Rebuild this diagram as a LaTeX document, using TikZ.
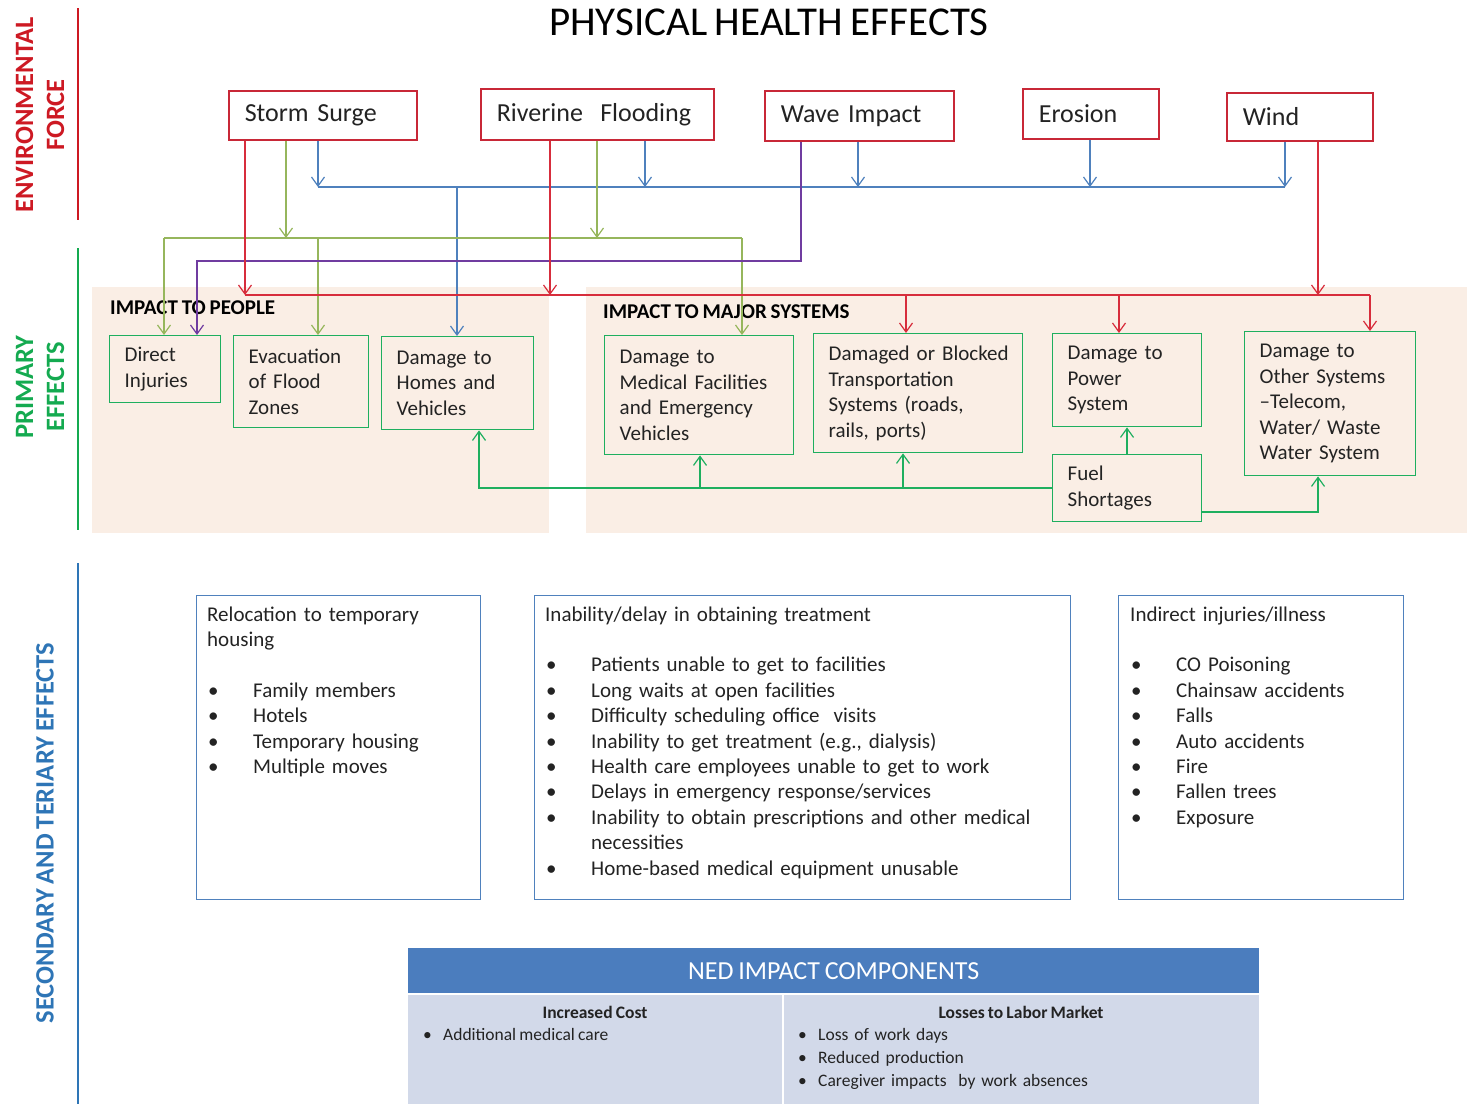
\documentclass[tikz,border=0pt]{standalone}
\usepackage{fontspec}
\setmainfont[WordSpace=0.8]{Carlito}
\usetikzlibrary{arrows.meta,calc}

\definecolor{forcered}{RGB}{200,40,55}
\definecolor{linkred}{RGB}{215,45,60}
\definecolor{linkblue}{RGB}{79,129,189}
\definecolor{linkolive}{RGB}{150,182,92}
\definecolor{linkpurple}{RGB}{112,60,160}
\definecolor{effgreen}{RGB}{30,175,95}
\definecolor{peach}{RGB}{250,238,229}
\definecolor{ink}{RGB}{35,35,35}
\definecolor{headred}{RGB}{205,25,35}
\definecolor{headgreen}{RGB}{20,170,80}
\definecolor{headblue}{RGB}{46,117,182}
\definecolor{tablehead}{RGB}{75,125,190}
\definecolor{tablebody}{RGB}{210,217,233}

% bullet followed by a fixed indent
\newcommand{\bulletline}[1]{\makebox[46pt][l]{\hspace{1pt}\textbullet}#1}
\newcommand{\smallbullet}[1]{\makebox[23pt][l]{\hspace{3pt}\textbullet}#1}

\begin{document}
\begin{tikzpicture}[x=1pt,y=-1pt,
  force/.style={draw=forcered, line width=1.6pt, fill=white, anchor=north west,
    inner xsep=16pt, inner ysep=0pt, align=left, text=ink,
    font=\fontsize{26}{31}\selectfont},
  effect/.style={draw=effgreen, line width=1.4pt, anchor=north west,
    inner xsep=15pt, inner ysep=0pt, align=left, text=ink,
    font=\fontsize{21}{25.5}\selectfont},
  sbox/.style={draw=linkblue, line width=1.4pt, anchor=north west, inner sep=0pt},
  stext/.style={anchor=base west, inner sep=0pt, align=left, text=ink,
    font=\fontsize{21}{25.4}\selectfont},
  wire/.style={line width=1.2pt},
  link/.style={line width=1.2pt, -{Straight Barb[length=9pt,width=13pt,line width=1.2pt]}},
  sidehead/.style={rotate=90, align=center, font=\bfseries\fontsize{26.5}{31}\selectfont},
  grouphead/.style={anchor=west, inner sep=0pt, text=black,
    font=\bfseries\fontsize{21}{25}\selectfont},
  tcell/.style={fill=tablebody, anchor=north west, inner sep=0pt},
  ttext/.style={inner sep=0pt, text=ink, font=\fontsize{17.5}{23}\selectfont}
]
\useasboundingbox (0,0) rectangle (1467,1104);

% shaded panels behind the primary effects
\fill[peach] (92,287) rectangle (549,533);
\fill[peach] (586,287) rectangle (1467,533);

% title
\node[font=\fontsize{41}{48}\selectfont, text=black] (title) at (769,22) {PHYSICAL HEALTH EFFECTS};

% row labels and rules on the left
\node[sidehead, text=headred] (envlab) at (40,115) {ENVIRONMENTAL\\FORCE};
\node[sidehead, text=headgreen] (primlab) at (40,387) {PRIMARY\\EFFECTS};
\node[sidehead, text=headblue] (seclab) at (45,833) {SECONDARY AND TERIARY EFFECTS};
\draw[headred, line width=2pt] (78,8) -- (78,220);
\draw[headgreen, line width=2pt] (78,248) -- (78,530);
\draw[headblue, line width=2pt] (78,563) -- (78,1104);

% environmental forces
\node[force, text width=156pt, minimum height=49pt] (ss) at (228,90) {Storm Surge};
\node[force, text width=201pt, minimum height=51pt] (rf) at (480,88) {Riverine \ Flooding};
\node[force, text width=157pt, minimum height=50pt] (wi) at (764,90) {Wave Impact};
\node[force, text width=104pt, minimum height=50pt] (er) at (1022,88) {Erosion};
\node[force, text width=114pt, minimum height=48pt] (wd) at (1226,92) {Wind};

% group headings
\node[grouphead] (pplhead) at (110,308) {IMPACT TO PEOPLE};
\node[grouphead] (syshead) at (603,312) {IMPACT TO MAJOR SYSTEMS};

% primary effects
\node[effect, text width=81pt, minimum height=67pt] (di) at (109,335) {Direct\\Injuries};
\node[effect, text width=105pt, minimum height=92pt] (ev) at (233,335) {Evacuation\\of Flood\\Zones};
\node[effect, text width=122pt, minimum height=93pt] (hv) at (381,336) {Damage to\\Homes and\\Vehicles};
\node[effect, text width=159pt, minimum height=119pt] (mf) at (604,335) {Damage to\\Medical Facilities\\and Emergency\\Vehicles};
\node[effect, text width=179pt, minimum height=119pt] (tr) at (813,333) {\mbox{Damaged or Blocked}\\Transportation\\Systems (roads,\\rails, ports)};
\node[effect, text width=119pt, minimum height=93pt] (pw) at (1052,333) {Damage to\\Power\\System};
\node[effect, text width=119pt, minimum height=67pt] (fs) at (1052,454) {Fuel\\Shortages};
\node[effect, text width=141pt, minimum height=144pt] (ot) at (1244,331) {Damage to\\Other Systems\\--Telecom,\\Water/ Waste\\Water System};

% blue bus: every force to homes and vehicles
\coordinate (bA) at (318,187);
\coordinate (bB) at (645,187);
\coordinate (bC) at (858,187);
\coordinate (bD) at (1090,187);
\coordinate (bE) at (1285,187);
\coordinate (bH) at (457,187);
\draw[link, linkblue] (ss.south -| bA) -- (bA);
\draw[link, linkblue] (rf.south -| bB) -- (bB);
\draw[link, linkblue] (wi.south -| bC) -- (bC);
\draw[link, linkblue] (er.south -| bD) -- (bD);
\draw[link, linkblue] (wd.south -| bE) -- (bE);
\draw[wire, linkblue] (bA) -- (bE);
\draw[link, linkblue] (bH) -- (bH |- hv.north);

% olive bus: surge and flooding to people and medical facilities
\coordinate (oL) at (164,238);
\coordinate (oS) at (286,238);
\coordinate (oE) at (318,238);
\coordinate (oF) at (597,238);
\coordinate (oR) at (742,238);
\draw[link, linkolive] (ss.south -| oS) -- (oS);
\draw[link, linkolive] (rf.south -| oF) -- (oF);
\draw[wire, linkolive] (oL) -- (oR);
\draw[link, linkolive] (oL) -- (oL |- di.north);
\draw[link, linkolive] (oE) -- (oE |- ev.north);
\draw[link, linkolive] (oR) -- (oR |- mf.north);

% purple: wave impact to direct injuries
\coordinate (pR) at (801,261);
\coordinate (pL) at (197,261);
\draw[link, linkpurple] (wi.south -| pR) -- (pR) -- (pL) -- (pL |- di.north);

% red bus: surge, flooding and wind to the major systems
\coordinate (rL) at (245,295);
\coordinate (rF) at (550,295);
\coordinate (rT) at (906,295);
\coordinate (rP) at (1119,295);
\coordinate (rW) at (1318,295);
\coordinate (rR) at (1370,295);
\draw[link, linkred] (ss.south -| rL) -- (rL);
\draw[link, linkred] (rf.south -| rF) -- (rF);
\draw[link, linkred] (wd.south -| rW) -- (rW);
\draw[wire, linkred] (rL) -- (rR);
\draw[link, linkred] (rT) -- (rT |- tr.north);
\draw[link, linkred] (rP) -- (rP |- pw.north);
\draw[link, linkred] (rR) -- (rR |- ot.north);

% green: fuel shortages feed back into other effects
\coordinate (g1) at (479,488);
\coordinate (g2) at (700,488);
\coordinate (g3) at (903,488);
\coordinate (g4) at (1127,454);
\coordinate (g5) at (1318,512);
\draw[link, effgreen] (fs.west |- g1) -- (g1) -- (g1 |- hv.south);
\draw[link, effgreen] (g2) -- (g2 |- mf.south);
\draw[link, effgreen] (g3) -- (g3 |- tr.south);
\draw[link, effgreen] (g4) -- (g4 |- pw.south);
\draw[link, effgreen] (fs.east |- g5) -- (g5) -- (g5 |- ot.south);

% secondary and tertiary effects
\node[sbox, minimum width=284pt, minimum height=304pt] (s1) at (196,595) {};
\node[sbox, minimum width=536pt, minimum height=304pt] (s2) at (534,595) {};
\node[sbox, minimum width=285pt, minimum height=304pt] (s3) at (1118,595) {};

\node[stext, text width=268pt] (s1t) at (207,621) {Relocation to temporary\\housing\\\mbox{}\\
  \bulletline{Family members}\\
  \bulletline{Hotels}\\
  \bulletline{Temporary housing}\\
  \bulletline{Multiple moves}};

\node[stext, text width=520pt] (s2t) at (545,621) {Inability/delay in obtaining treatment\\\mbox{}\\
  \bulletline{Patients unable to get to facilities}\\
  \bulletline{Long waits at open facilities}\\
  \bulletline{Difficulty scheduling office\ \ visits}\\
  \bulletline{Inability to get treatment (e.g., dialysis)}\\
  \bulletline{Health care employees unable to get to work}\\
  \bulletline{Delays in emergency response/services}\\
  \bulletline{Inability to obtain prescriptions and other medical}\\
  \hspace*{46pt}necessities\\
  \bulletline{Home-based medical equipment unusable}};

\node[stext, text width=268pt] (s3t) at (1130,621) {Indirect injuries/illness\\\mbox{}\\
  \bulletline{CO Poisoning}\\
  \bulletline{Chainsaw accidents}\\
  \bulletline{Falls}\\
  \bulletline{Auto accidents}\\
  \bulletline{Fire}\\
  \bulletline{Fallen trees}\\
  \bulletline{Exposure}};

% NED impact components table
\node[fill=tablehead, anchor=north west, inner sep=0pt, minimum width=851pt, minimum height=45pt,
  text=white, font=\fontsize{26}{31}\selectfont] (th) at (408,948) {NED IMPACT COMPONENTS};
\node[tcell, minimum width=374pt, minimum height=109pt] (tc1) at (408,995) {};
\node[tcell, minimum width=475pt, minimum height=109pt] (tc2) at (784,995) {};

\node[ttext, font=\bfseries\fontsize{17.5}{23}\selectfont] (tc1h) at (595,1012) {Increased Cost};
\node[ttext, font=\bfseries\fontsize{17.5}{23}\selectfont] (tc2h) at (1021,1012) {Losses to Labor Market};
\node[ttext, anchor=west] (tc1b) at (420,1034) {\smallbullet{Additional medical care}};
\node[ttext, anchor=base west, align=left, text width=440pt] (tc2b) at (795,1040)
  {\smallbullet{Loss of work days}\\
   \smallbullet{Reduced production}\\
   \smallbullet{Caregiver impacts\ \ by work absences}};
\end{tikzpicture}
\end{document}
